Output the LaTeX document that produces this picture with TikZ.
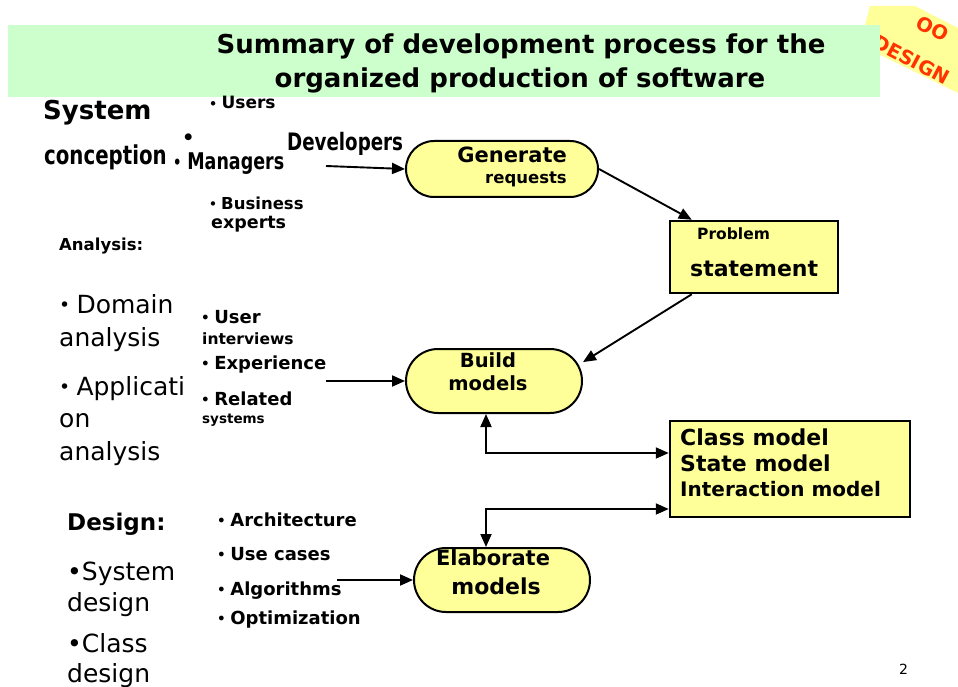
\documentclass[tikz,border=0pt]{standalone}
\usepackage{fontspec}
\setmainfont{DejaVu Sans}
\newfontfamily\narrowfont[FakeStretch=0.76]{DejaVu Sans}
\usetikzlibrary{calc,arrows.meta}
\definecolor{titlegreen}{HTML}{CCFFCC}
\definecolor{boxyellow}{HTML}{FFFF99}
\definecolor{stampred}{HTML}{FF3300}
\newcommand{\fsz}[1]{\fontsize{#1}{#1}\selectfont}
\newcommand{\bul}{\raisebox{0.05em}{\scalebox{0.75}{•}}\kern0.25em}

\begin{document}
\begin{tikzpicture}[x=1pt,y=-1pt,
  lab/.style={anchor=base west,inner sep=0pt},
  labc/.style={anchor=base,inner sep=0pt},
  stadium/.style={draw,line width=2pt,fill=boxyellow,inner sep=0pt},
  yellowbox/.style={draw,line width=2.5pt,fill=boxyellow,inner sep=0pt},
  arr/.style={line width=1.9pt,-{Triangle[length=13pt,width=11pt]}},
  twoarr/.style={line width=1.9pt,{Triangle[length=13pt,width=11pt]}-{Triangle[length=13pt,width=11pt]}}]
\fill[white] (0,0) rectangle (958,687);
\useasboundingbox (0,0) rectangle (958,687);

% corner stamp
\fill[boxyellow] (870,6) -- (915,6) -- (958,28) -- (958,93) -- (860,45) -- cycle;
\node[labc,rotate=-28,text=stampred,font=\bfseries\fsz{19.5}] (stampoo) at (929,35) {OO};
\node[labc,rotate=-28,text=stampred,font=\bfseries\fsz{19.5}] (stampdesign) at (908,66) {DESIGN};

% title
\fill[titlegreen] (8,25) rectangle (880,97);
\node[labc,font=\bfseries\fsz{26}] (title1) at (521,54) {Summary of development process for the};
\node[labc,font=\bfseries\fsz{26}] (title2) at (520,88) {organized production of software};

% system conception
\node[lab,font=\bfseries\fsz{26}] (system) at (43,120) {System};
\node[lab,font=\narrowfont\bfseries\fsz{26}] (conception) at (44,165) {conception};
\node[lab,font=\bfseries\fsz{17}] (users) at (209,109) {\bul Users};
\node[lab,font=\bfseries\fsz{26}] (dot) at (182,146) {\bul};
\node[lab,font=\narrowfont\bfseries\fsz{23}] (managers) at (173,170) {\bul Managers};
\node[lab,font=\narrowfont\bfseries\fsz{24}] (developers) at (287,151) {Developers};
\node[lab,font=\bfseries\fsz{16.5}] (business) at (209,209) {\bul Business};
\node[lab,font=\bfseries\fsz{17.5}] (experts) at (211,228) {experts};

% analysis
\node[lab,font=\bfseries\fsz{16.5}] (analysis) at (59,251) {Analysis:};
\node[lab,font=\fsz{25}] (domain1) at (59,313) {\bul Domain};
\node[lab,font=\fsz{25}] (domain2) at (59,346) {analysis};
\node[lab,font=\fsz{25}] (appl1) at (59,395) {\bul Applicati};
\node[lab,font=\fsz{25}] (appl2) at (59,427) {on};
\node[lab,font=\fsz{25}] (appl3) at (59,460) {analysis};
\node[lab,font=\bfseries\fsz{18}] (user) at (201,323) {\bul User};
\node[lab,font=\bfseries\fsz{15.5}] (interviews) at (202,344) {interviews};
\node[lab,font=\bfseries\fsz{18}] (experience) at (201,369) {\bul Experience};
\node[lab,font=\bfseries\fsz{18}] (related) at (201,405) {\bul Related};
\node[lab,font=\bfseries\fsz{13.5}] (systems) at (202,423) {systems};

% design
\node[lab,font=\bfseries\fsz{23}] (design) at (67,530) {Design:};
\node[lab,font=\fsz{25}] (sysdes1) at (67,580) {•System};
\node[lab,font=\fsz{25}] (sysdes2) at (67,611) {design};
\node[lab,font=\fsz{25}] (classdes1) at (67,652) {•Class};
\node[lab,font=\fsz{25}] (classdes2) at (67,682) {design};
\node[lab,font=\bfseries\fsz{18}] (architecture) at (217,526) {\bul Architecture};
\node[lab,font=\bfseries\fsz{18}] (usecases) at (217,560) {\bul Use cases};
\node[lab,font=\bfseries\fsz{18}] (algorithms) at (217,595) {\bul Algorithms};
\node[lab,font=\bfseries\fsz{18}] (optimization) at (217,624) {\bul Optimization};

% process boxes
\node[stadium,minimum width=192pt,minimum height=56pt,rounded corners=28pt] (generate) at (502,169) {};
\node[anchor=base east,inner sep=0pt,font=\bfseries\fsz{21}] (generatetxt) at (567,163) {Generate};
\node[anchor=base east,inner sep=0pt,font=\bfseries\fsz{16.5}] (requeststxt) at (567,184) {requests};

\node[yellowbox,minimum width=168pt,minimum height=72pt] (problem) at (754,257) {};
\node[lab,font=\bfseries\fsz{15.5}] (problemtxt) at (697,240) {Problem};
\node[lab,font=\bfseries\fsz{22}] (statementtxt) at (690,276) {statement};

\node[stadium,minimum width=176pt,minimum height=64pt,rounded corners=32pt] (build) at (494,381) {};
\node[labc,font=\bfseries\fsz{19.5}] (buildtxt) at (488,367) {Build};
\node[labc,font=\bfseries\fsz{19.5}] (buildmodels) at (488,390) {models};

\node[yellowbox,minimum width=240pt,minimum height=96pt] (classes) at (790,469) {};
\node[lab,font=\bfseries\fsz{22}] (classmodel) at (680,445) {Class model};
\node[lab,font=\bfseries\fsz{22}] (statemodel) at (680,471) {State model};
\node[lab,font=\bfseries\fsz{20}] (intermodel) at (680,496) {Interaction model};

\node[stadium,minimum width=176pt,minimum height=64pt,rounded corners=32pt] (elaborate) at (502,580) {};
\node[labc,font=\bfseries\fsz{21}] (elaboratetxt) at (493,565) {Elaborate};
\node[labc,font=\bfseries\fsz{22}] (elabmodels) at (496,594) {models};

% connectors
\coordinate (devin) at (326,166);
\coordinate (expin) at (326,381);
\coordinate (algin) at (337,580);
\draw[arr] (devin) -- (generate.west);
\draw[arr] (generate.east) -- ($(problem.north west)+(23,0)$);
\draw[arr] ($(problem.south west)+(23,0)$) -- (build.12);
\draw[arr] (expin) -- (build.west);
\draw[twoarr] ($(build.south)+(-8,0)$) |- ($(classes.west)+(0,-16)$);
\draw[twoarr] ($(elaborate.north)+(-16,0)$) |- ($(classes.west)+(0,40)$);
\draw[arr] (algin) -- (elaborate.west);

\node[lab,font=\fsz{14}] (pagenum) at (899,674) {2};
\end{tikzpicture}
\end{document}
